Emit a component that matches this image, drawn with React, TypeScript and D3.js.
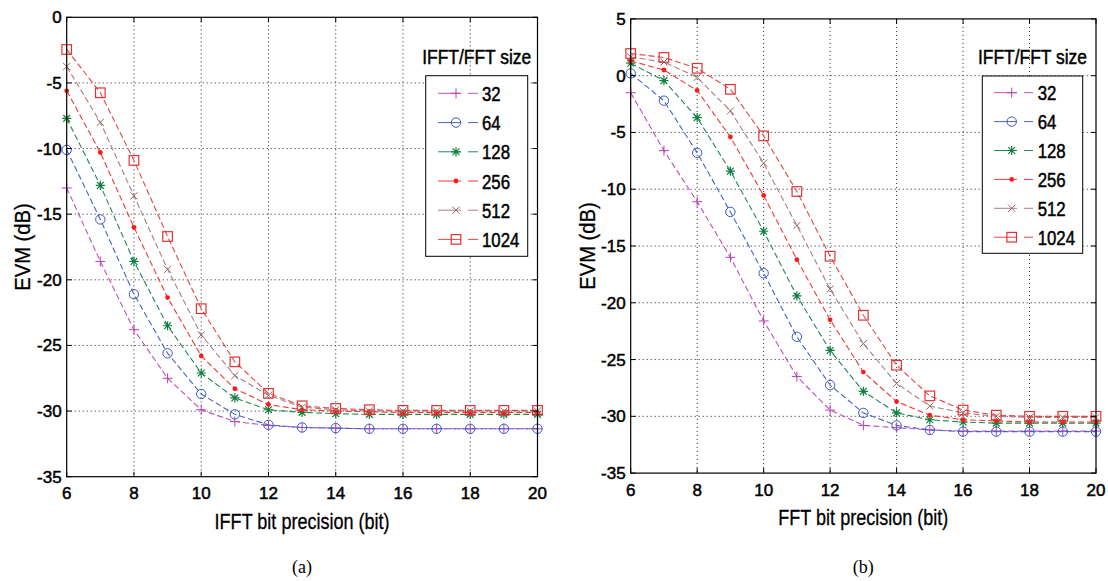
import React from "react";
import * as d3 from "d3";

// ---------- data ----------
const bits = [6, 7, 8, 9, 10, 11, 12, 13, 14, 15, 16, 17, 18, 19, 20];
const sizeLabels = ["32", "64", "128", "256", "512", "1024"];
const xTicks = [6, 8, 10, 12, 14, 16, 18, 20];
const yTicksA = [0, -5, -10, -15, -20, -25, -30, -35];
const yTicksB = [5, 0, -5, -10, -15, -20, -25, -30, -35];

// (a) IFFT
const evmA32 = [-13.0, -18.6, -23.8, -27.5, -29.9, -30.8, -31.1, -31.25, -31.3, -31.35, -31.35, -31.35, -31.35, -31.35, -31.35];
const evmA64 = [-10.1, -15.4, -21.1, -25.6, -28.7, -30.25, -31.05, -31.25, -31.3, -31.35, -31.35, -31.35, -31.35, -31.35, -31.35];
const evmA128 = [-7.7, -12.8, -18.6, -23.5, -27.1, -29.0, -29.9, -30.1, -30.2, -30.25, -30.25, -30.25, -30.25, -30.25, -30.25];
const evmA256 = [-5.6, -10.3, -16.0, -21.35, -25.8, -28.3, -29.5, -29.9, -30.0, -30.05, -30.1, -30.1, -30.1, -30.1, -30.1];
const evmA512 = [-3.75, -8.0, -13.6, -19.2, -24.2, -27.3, -28.8, -29.7, -29.9, -30.0, -30.0, -30.0, -30.0, -30.0, -30.0];
const evmA1024 = [-2.45, -5.75, -10.9, -16.7, -22.2, -26.25, -28.65, -29.6, -29.8, -29.9, -29.95, -29.95, -29.95, -29.95, -29.95];

// (b) FFT
const evmB32 = [-1.5, -6.6, -11.1, -16.0, -21.6, -26.5, -29.45, -30.8, -31.0, -31.2, -31.3, -31.3, -31.3, -31.3, -31.3];
const evmB64 = [0.2, -2.2, -6.8, -12.0, -17.4, -23.0, -27.25, -29.7, -30.8, -31.2, -31.35, -31.35, -31.35, -31.35, -31.35];
const evmB128 = [1.1, -0.44, -3.7, -8.4, -13.7, -19.4, -24.2, -27.8, -29.7, -30.3, -30.5, -30.6, -30.6, -30.6, -30.6];
const evmB256 = [1.3, 0.5, -1.3, -5.4, -10.55, -16.2, -21.5, -26.1, -28.7, -29.9, -30.3, -30.4, -30.5, -30.5, -30.5];
const evmB512 = [1.65, 1.2, -0.15, -3.1, -7.7, -13.2, -18.8, -23.6, -27.1, -29.1, -29.7, -30.0, -30.1, -30.1, -30.1];
const evmB1024 = [1.95, 1.6, 0.65, -1.2, -5.3, -10.2, -15.9, -21.1, -25.5, -28.2, -29.45, -29.9, -30.0, -30.0, -30.0];

const seriesA = [evmA32, evmA64, evmA128, evmA256, evmA512, evmA1024];
const seriesB = [evmB32, evmB64, evmB128, evmB256, evmB512, evmB1024];

// ---------- styles ----------
const lineColors = ["#c050c0", "#4a64c4", "#23894f", "#f03a3a", "#a88080", "#e04848"];
const markerColors = ["#b840b8", "#3a58c8", "#108040", "#ff1a1a", "#946868", "#e03434"];
const markerTypes = ["plus", "circle", "star", "dot", "x", "square"];

const FONT = "'Liberation Sans', Arial, Helvetica, sans-serif";

function Marker({ type, x, y, color }: { type: string; x: number; y: number; color: string }) {
  const sw = 1;
  switch (type) {
    case "plus":
      return <path d={`M${x - 5},${y}H${x + 5}M${x},${y - 5}V${y + 5}`} stroke={color} strokeWidth={sw} fill="none" />;
    case "circle":
      return <circle cx={x} cy={y} r={4.7} stroke={color} strokeWidth={sw} fill="none" />;
    case "star": {
      const d = 3.4;
      return (
        <path
          d={`M${x - 4.6},${y}H${x + 4.6}M${x},${y - 4.6}V${y + 4.6}M${x - d},${y - d}L${x + d},${y + d}M${x - d},${y + d}L${x + d},${y - d}`}
          stroke={color}
          strokeWidth={sw + 0.2}
          fill="none"
        />
      );
    }
    case "dot":
      return <circle cx={x} cy={y} r={2.4} fill={color} stroke="none" />;
    case "x": {
      const d = 3.6;
      return <path d={`M${x - d},${y - d}L${x + d},${y + d}M${x - d},${y + d}L${x + d},${y - d}`} stroke={color} strokeWidth={sw} fill="none" />;
    }
    case "square":
      return <rect x={x - 4.8} y={y - 4.8} width={9.6} height={9.6} stroke={color} strokeWidth={sw + 0.2} fill="none" />;
    default:
      return null;
  }
}

type PanelProps = {
  left: number;
  right: number;
  top: number;
  bottom: number;
  yMax: number;
  yTicks: number[];
  series: number[][];
  xLabel: string;
  caption: string;
  yLabelX: number;
  legendBox: { x0: number; x1: number; y0: number; y1: number };
  legendRows: number[];
  legendLine: { x0: number; x1: number; mx: number; tx: number };
};

function Panel(p: PanelProps) {
  const x = d3.scaleLinear().domain([6, 20]).range([p.left, p.right]);
  const y = d3.scaleLinear().domain([-35, p.yMax]).range([p.bottom, p.top]);
  const line = d3
    .line<number>()
    .x((_, i) => x(bits[i]))
    .y((d) => y(d));
  const cx = (p.left + p.right) / 2;
  const cy = (p.top + p.bottom) / 2;
  const lb = p.legendBox;
  const ll = p.legendLine;
  return (
    <g>
      {/* grid */}
      {xTicks.slice(1, -1).map((t) => (
        <line key={"gx" + t} x1={x(t)} x2={x(t)} y1={p.top} y2={p.bottom} stroke="#222" strokeWidth={1} strokeDasharray="1,3" />
      ))}
      {p.yTicks.slice(1, -1).map((t) => (
        <line key={"gy" + t} x1={p.left} x2={p.right} y1={y(t)} y2={y(t)} stroke="#222" strokeWidth={1} strokeDasharray="1,3" />
      ))}
      {/* series */}
      {p.series.map((s, si) => (
        <g key={"s" + si}>
          <path d={line(s) || ""} fill="none" stroke={lineColors[si]} strokeWidth={1.1} strokeDasharray="6,3" />
          {s.map((v, i) => (
            <Marker key={i} type={markerTypes[si]} x={x(bits[i])} y={y(v)} color={markerColors[si]} />
          ))}
        </g>
      ))}
      {/* box */}
      <rect x={p.left} y={p.top} width={p.right - p.left} height={p.bottom - p.top} fill="none" stroke="#000" strokeWidth={1.2} />
      {/* ticks */}
      {xTicks.map((t) => (
        <g key={"tx" + t}>
          <line x1={x(t)} x2={x(t)} y1={p.bottom} y2={p.bottom - 5} stroke="#000" />
          <line x1={x(t)} x2={x(t)} y1={p.top} y2={p.top + 5} stroke="#000" />
          <text x={x(t)} y={p.bottom + 22.5} textAnchor="middle" fontFamily={FONT} fontSize={17} fill="#000" stroke="#000" strokeWidth={0.5}>
            {t}
          </text>
        </g>
      ))}
      {p.yTicks.map((t) => (
        <g key={"ty" + t}>
          <line x1={p.left} x2={p.left + 5} y1={y(t)} y2={y(t)} stroke="#000" />
          <line x1={p.right} x2={p.right - 5} y1={y(t)} y2={y(t)} stroke="#000" />
          <text x={p.left - 5} y={y(t) + 6} textAnchor="end" fontFamily={FONT} fontSize={17} fill="#000" stroke="#000" strokeWidth={0.5}>
            {t}
          </text>
        </g>
      ))}
      {/* axis labels */}
      <text transform={`translate(${cx},${p.bottom + 52}) scale(0.82,1)`} textAnchor="middle" fontFamily={FONT} fontSize={22} fill="#000" stroke="#000" strokeWidth={0.3}>
        {p.xLabel}
      </text>
      <text transform={`translate(${p.yLabelX},${cy}) rotate(-90) scale(0.92,1)`} textAnchor="middle" fontFamily={FONT} fontSize={22} fill="#000" stroke="#000" strokeWidth={0.3}>
        EVM (dB)
      </text>
      <text x={cx} y={573} textAnchor="middle" fontFamily="'Liberation Serif', 'Times New Roman', serif" fontSize={18} fill="#000">
        {p.caption}
      </text>
      {/* legend */}
      <text transform={`translate(${(lb.x0 + lb.x1) / 2},${lb.y0 - 12}) scale(0.83,1)`} textAnchor="middle" fontFamily={FONT} fontSize={21} fill="#000" stroke="#000" strokeWidth={0.5}>
        IFFT/FFT size
      </text>
      <rect x={lb.x0} y={lb.y0} width={lb.x1 - lb.x0} height={lb.y1 - lb.y0} fill="#fff" stroke="#000" strokeWidth={1} />
      {sizeLabels.map((lab, i) => {
        const ry = p.legendRows[i];
        return (
          <g key={"lg" + i}>
            <line x1={ll.x0} x2={ll.x1} y1={ry} y2={ry} stroke={lineColors[i]} strokeWidth={1} strokeDasharray="23,7,10" />
            <Marker type={markerTypes[i]} x={ll.mx} y={ry} color={markerColors[i]} />
            <text transform={`translate(${ll.tx},${ry + 7.5}) scale(0.8,1)`} fontFamily={FONT} fontSize={21} fill="#000" stroke="#000" strokeWidth={0.5}>
              {lab}
            </text>
          </g>
        );
      })}
    </g>
  );
}

export default function App() {
  return (
    <svg width={1108} height={581} style={{ position: "absolute", left: 0, top: 0, background: "#fff" }}>
      <rect x={0} y={0} width={1108} height={581} fill="#fff" />
      <Panel
        left={66.7}
        right={537.5}
        top={17.3}
        bottom={476.7}
        yMax={0}
        yTicks={yTicksA}
        series={seriesA}
        xLabel="IFFT bit precision (bit)"
        caption="(a)"
        yLabelX={30}
        legendBox={{ x0: 425.7, x1: 527.7, y0: 75.7, y1: 256.3 }}
        legendRows={[93.3, 122.6, 151.8, 181, 210.2, 239.4]}
        legendLine={{ x0: 438, x1: 478, mx: 456, tx: 482 }}
      />
      <Panel
        left={630.7}
        right={1096}
        top={18.9}
        bottom={473.1}
        yMax={5}
        yTicks={yTicksB}
        series={seriesB}
        xLabel="FFT bit precision (bit)"
        caption="(b)"
        yLabelX={595}
        legendBox={{ x0: 982.3, x1: 1082.7, y0: 76, y1: 253.3 }}
        legendRows={[92.7, 121.6, 150.5, 179.4, 208.3, 237.2]}
        legendLine={{ x0: 994, x1: 1033, mx: 1011.7, tx: 1037.7 }}
      />
    </svg>
  );
}
